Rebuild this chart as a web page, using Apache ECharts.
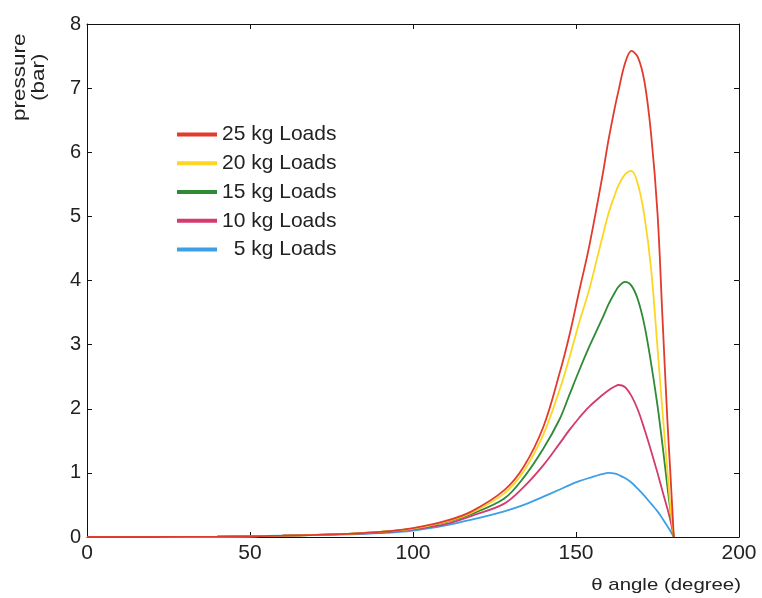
<!DOCTYPE html>
<html>
<head>
<meta charset="utf-8">
<script src="https://cdn.jsdelivr.net/npm/echarts@6/dist/echarts.min.js"></script>
<style>
  html, body { margin: 0; padding: 0; background: #fff; }
  #chart { width: 762px; height: 598px; }
</style>
</head>
<body>
<div id="chart"></div>
<script>
// Crank angle (degrees) at which pressure was sampled
const angles = [0, 20, 40, 60, 80, 90, 100, 110, 118, 128, 134, 140, 145, 148, 151, 154, 158, 160, 162, 163, 165, 167, 169, 171, 173, 175, 176.5, 178, 179, 180];

// Pressure (bar) for each load
const load25 = [0, 0, 0.005, 0.02, 0.05, 0.08, 0.14, 0.25, 0.40, 0.73, 1.10, 1.72, 2.56, 3.15, 3.84, 4.52, 5.60, 6.20, 6.72, 6.95, 7.38, 7.58, 7.48, 7.10, 6.30, 5.05, 3.45, 1.85, 0.95, 0];
const load20 = [0, 0, 0.005, 0.02, 0.05, 0.08, 0.13, 0.24, 0.38, 0.68, 1.03, 1.60, 2.30, 2.80, 3.35, 3.85, 4.66, 5.05, 5.35, 5.48, 5.65, 5.71, 5.50, 5.00, 4.20, 2.95, 1.98, 1.05, 0.45, 0];
const load15 = [0, 0, 0.005, 0.02, 0.05, 0.08, 0.13, 0.23, 0.36, 0.60, 0.93, 1.38, 1.84, 2.22, 2.60, 2.96, 3.40, 3.63, 3.82, 3.90, 3.98, 3.92, 3.70, 3.30, 2.72, 2.05, 1.45, 0.80, 0.40, 0];
const load10 = [0, 0, 0.005, 0.02, 0.05, 0.07, 0.12, 0.20, 0.33, 0.52, 0.78, 1.12, 1.46, 1.67, 1.86, 2.03, 2.21, 2.29, 2.35, 2.37, 2.34, 2.20, 1.98, 1.68, 1.35, 1.00, 0.72, 0.45, 0.25, 0];
const load5  = [0, 0, 0.005, 0.02, 0.04, 0.06, 0.10, 0.18, 0.27, 0.40, 0.50, 0.63, 0.74, 0.81, 0.87, 0.92, 0.98, 1.00, 0.99, 0.97, 0.92, 0.85, 0.75, 0.64, 0.52, 0.40, 0.29, 0.17, 0.09, 0];

const seriesNames = ['25 kg Loads', '20 kg Loads', '15 kg Loads', '10 kg Loads', '  5 kg Loads'];
const seriesColors = ['#e23a2c', '#fcd623', '#2f8a36', '#d33a6e', '#3d9fe6'];
const seriesValues = [load25, load20, load15, load10, load5];

const xTicks = { min: 0, max: 200, interval: 50 };
const yTicks = { min: 0, max: 8, interval: 1 };

const font = '"Liberation Sans", Arial, sans-serif';

const chart = echarts.init(document.getElementById('chart'), null, { renderer: 'canvas' });

function frameAxis(extra) {
  return Object.assign({
    type: 'value',
    axisLine: { show: true, onZero: false, lineStyle: { color: '#111', width: 1 } },
    axisTick: { show: true, inside: true, length: 5, lineStyle: { color: '#111' } },
    splitLine: { show: false }
  }, extra);
}

chart.setOption({
  backgroundColor: '#fff',
  animation: false,
  grid: { left: 87, right: 23, top: 24, bottom: 61, show: false },
  legend: {
    orient: 'vertical',
    left: 172,
    top: 119,
    itemWidth: 40,
    itemHeight: 4,
    itemGap: 7.75,
    icon: 'rect',
    textStyle: { fontFamily: font, fontSize: 21, color: '#222' },
    data: seriesNames
  },
  xAxis: [
    frameAxis({ position: 'bottom', min: xTicks.min, max: xTicks.max, interval: xTicks.interval,
      axisLabel: { fontFamily: font, fontSize: 21, color: '#222', margin: 6 } }),
    frameAxis({ position: 'top', min: xTicks.min, max: xTicks.max, interval: xTicks.interval,
      axisLabel: { show: false } })
  ],
  yAxis: [
    frameAxis({ position: 'left', min: yTicks.min, max: yTicks.max, interval: yTicks.interval,
      axisLabel: { fontFamily: font, fontSize: 20, color: '#222', margin: 6 } }),
    frameAxis({ position: 'right', min: yTicks.min, max: yTicks.max, interval: yTicks.interval,
      axisLabel: { show: false } })
  ],
  series: seriesNames.map((name, i) => ({
    name: name,
    type: 'line',
    xAxisIndex: 0,
    yAxisIndex: 0,
    showSymbol: false,
    smooth: 0.35,
    color: seriesColors[i],
    lineStyle: { width: 1.8, color: seriesColors[i] },
    data: angles.map((a, j) => [a, seriesValues[i][j]])
  })).reverse(),
  graphic: [
    {
      type: 'text', rotation: Math.PI / 2, x: 11, y: 121, scaleX: 1.25,
      style: { text: 'pressure', fontFamily: font, fontSize: 18, fill: '#222' }
    },
    {
      type: 'text', rotation: Math.PI / 2, x: 30, y: 101, scaleX: 1.25,
      style: { text: '(bar)', fontFamily: font, fontSize: 18, fill: '#222' }
    },
    {
      type: 'text', x: 741, y: 577, scaleX: 1.2,
      style: { text: 'θ angle (degree)', fontFamily: font, fontSize: 17, fill: '#222', align: 'right' }
    }
  ]
});
</script>
</body>
</html>
